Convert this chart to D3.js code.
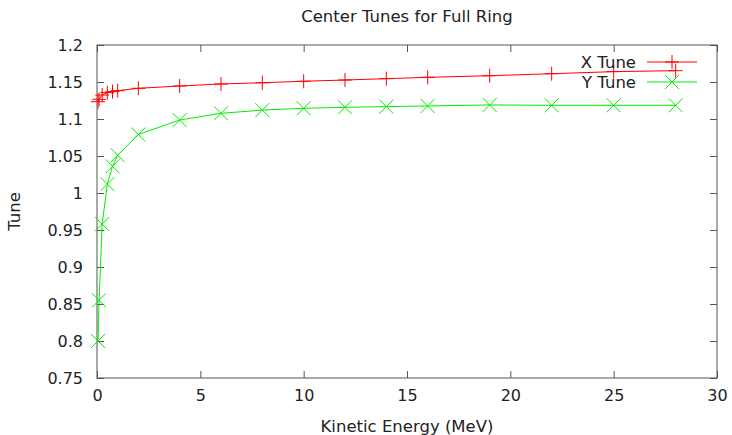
<!DOCTYPE html>
<html>
<head>
<meta charset="utf-8">
<script src="https://cdn.jsdelivr.net/npm/d3@7"></script>
<style>
  body { margin: 0; background: #fff; }
  text { font-family: 'DejaVu Sans', sans-serif; fill: #222; }
</style>
</head>
<body>
<div id="chart"></div>
<script>
// kinetic energy (MeV) for each tune measurement
let energy = [0.05, 0.1, 0.25, 0.5, 0.75, 1, 2, 4, 6, 8, 10, 12, 14, 16, 19, 22, 25, 28]
let xTune = [1.1234, 1.1266, 1.1324, 1.1356, 1.137, 1.1383, 1.1415, 1.1446, 1.1473, 1.149,
  1.151, 1.1527, 1.1545, 1.1563, 1.1585, 1.1612, 1.164, 1.1653]
let yTune = [0.8, 0.855, 0.958, 1.012, 1.036, 1.051, 1.079, 1.0986, 1.1077, 1.112,
  1.1145, 1.1158, 1.1167, 1.1176, 1.119, 1.1185, 1.1185, 1.1185]
let xTicks = [0, 5, 10, 15, 20, 25, 30]
let yTicks = [0.75, 0.8, 0.85, 0.9, 0.95, 1, 1.05, 1.1, 1.15, 1.2]

var width = 732
var height = 435
var margin = {left: 97, right: 15, top: 45, bottom: 57}

var x = d3.scaleLinear()
  .domain([0, 30])
  .range([margin.left, width - margin.right])

var y = d3.scaleLinear()
  .domain([0.75, 1.2])
  .range([height - margin.bottom, margin.top])

var svg = d3.select('#chart')
  .append('svg')
  .attr('width', width)
  .attr('height', height)

// tick marks pointing inward on all four sides
var tickLen = 7
var fmt = d3.format('')
svg.append('g')
  .attr('transform', 'translate(0,' + y(0.75) + ')')
  .call(d3.axisBottom(x).tickValues(xTicks).tickSize(-tickLen).tickPadding(12).tickFormat(fmt))
svg.append('g')
  .attr('transform', 'translate(0,' + y(1.2) + ')')
  .call(d3.axisTop(x).tickValues(xTicks).tickSize(-tickLen).tickFormat(''))
svg.append('g')
  .attr('transform', 'translate(' + x(0) + ',0)')
  .call(d3.axisLeft(y).tickValues(yTicks).tickSize(-tickLen).tickPadding(14).tickFormat(fmt))
svg.append('g')
  .attr('transform', 'translate(' + x(30) + ',0)')
  .call(d3.axisRight(y).tickValues(yTicks).tickSize(-tickLen).tickFormat(''))

svg.selectAll('.domain').remove()
svg.selectAll('.tick line').attr('stroke', '#555')
svg.selectAll('.tick text')
  .style('font-size', '16px')
  .style('font-family', "'DejaVu Sans', sans-serif")
  .attr('fill', '#222')

// frame
svg.append('rect')
  .attr('x', x(0))
  .attr('y', y(1.2))
  .attr('width', x(30) - x(0))
  .attr('height', y(0.75) - y(1.2))
  .attr('fill', 'none')
  .attr('stroke', '#555')

// titles
svg.append('text')
  .attr('x', (x(0) + x(30)) / 2)
  .attr('y', 22)
  .attr('text-anchor', 'middle')
  .style('font-size', '16.5px')
  .text('Center Tunes for Full Ring')
svg.append('text')
  .attr('x', (x(0) + x(30)) / 2)
  .attr('y', 432)
  .attr('text-anchor', 'middle')
  .style('font-size', '16.5px')
  .text('Kinetic Energy (MeV)')
svg.append('text')
  .attr('transform', 'translate(20,' + y(0.975) + ') rotate(-90)')
  .attr('text-anchor', 'middle')
  .style('font-size', '16.5px')
  .text('Tune')

var series = [
  {name: 'X Tune', values: xTune, color: '#ff0000', mark: 'plus'},
  {name: 'Y Tune', values: yTune, color: '#00ee00', mark: 'cross'}
]

function marker (g, kind, color) {
  var s = 7
  var p = kind === 'plus'
    ? 'M' + (-s) + ',0H' + s + 'M0,' + (-s) + 'V' + s
    : 'M' + (-s) + ',' + (-s) + 'L' + s + ',' + s + 'M' + (-s) + ',' + s + 'L' + s + ',' + (-s)
  g.append('path').attr('d', p).attr('stroke', color).attr('fill', 'none').attr('stroke-width', 1)
}

var line = d3.line()
  .x(function (d) { return x(d[0]) })
  .y(function (d) { return y(d[1]) })

series.forEach(function (s, i) {
  var pts = energy.map(function (e, j) { return [e, s.values[j]] })
  svg.append('path')
    .datum(pts)
    .attr('d', line)
    .attr('fill', 'none')
    .attr('stroke', s.color)
    .attr('stroke-width', 1)
  pts.forEach(function (d) {
    var g = svg.append('g').attr('transform', 'translate(' + x(d[0]) + ',' + y(d[1]) + ')')
    marker(g, s.mark, s.color)
  })

  // legend entry
  var ly = 62 + i * 20
  svg.append('text')
    .attr('x', 636)
    .attr('y', ly + 6)
    .attr('text-anchor', 'end')
    .style('font-size', '16.5px')
    .text(s.name)
  svg.append('line')
    .attr('x1', 647).attr('x2', 697)
    .attr('y1', ly).attr('y2', ly)
    .attr('stroke', s.color)
  var lg = svg.append('g').attr('transform', 'translate(672,' + ly + ')')
  marker(lg, s.mark, s.color)
})
</script>
</body>
</html>
